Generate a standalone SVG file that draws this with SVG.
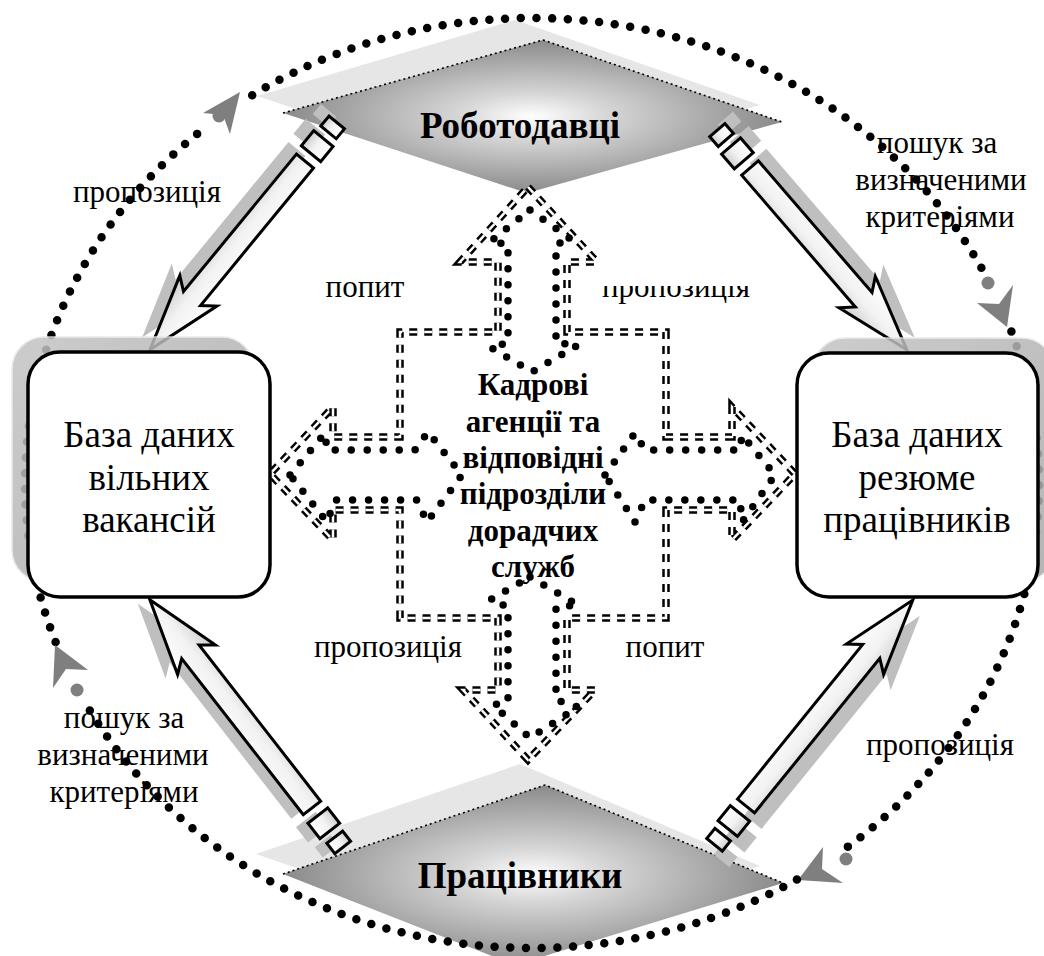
<svg xmlns="http://www.w3.org/2000/svg" xmlns:xlink="http://www.w3.org/1999/xlink" width="1044" height="956" viewBox="0 0 1044 956">
<defs>
<style>
.lbl{font-family:"Liberation Serif","Times New Roman",serif;font-size:31px;text-anchor:middle;fill:#000}
.bx{font-family:"Liberation Serif","Times New Roman",serif;font-size:37px;text-anchor:middle;fill:#000}
.bold{font-family:"Liberation Serif","Times New Roman",serif;font-weight:bold;text-anchor:middle;fill:#000}
.ring{fill:none;stroke:#000;stroke-width:8.5;stroke-linecap:round;stroke-dasharray:0 15.7}
.dots{fill:none;stroke:#000;stroke-width:7.5;stroke-linecap:round;stroke-linejoin:round;stroke-dasharray:0 16}
.dash1{fill:none;stroke:#000;stroke-width:7.5;stroke-dasharray:8 7}
.dash2{fill:none;stroke:#fff;stroke-width:2.5;stroke-dasharray:8 7}
.ahead{fill:#7f7f7f}
.gdot{fill:#7f7f7f}
.blk{fill:url(#ag);stroke:#000;stroke-width:3;stroke-linejoin:miter}
.shd{fill:#bfbfbf}
.dshadow{fill:#e6e6e6}
.dmain{fill:url(#dg)}
.saw{fill:none;stroke:#000;stroke-width:1.6;stroke-dasharray:2 3}
.card{fill:#fff;stroke:#000;stroke-width:3.5}
.cardshd{fill:url(#sg);stroke:#e8e8e8;stroke-width:1.5;opacity:0.85}
</style>
<radialGradient id="dg" cx="0.5" cy="0.5" r="0.5">
<stop offset="0" stop-color="#ffffff"/>
<stop offset="0.3" stop-color="#d6d6d6"/>
<stop offset="1" stop-color="#8a8a8a"/>
</radialGradient>
<linearGradient id="ag" x1="0" y1="0" x2="0" y2="1">
<stop offset="0" stop-color="#ffffff"/>
<stop offset="0.55" stop-color="#f2f2f2"/>
<stop offset="1" stop-color="#cfcfcf"/>
</linearGradient>
<linearGradient id="sg" x1="0" y1="0" x2="1" y2="1">
<stop offset="0" stop-color="#c4c4c4"/>
<stop offset="1" stop-color="#a8a8a8"/>
</linearGradient>
<clipPath id="clipTop">
<rect x="580" y="286" width="200" height="30"/>
</clipPath>
</defs>
<rect x="0" y="0" width="1044" height="956" fill="#fff"/>

<!-- Top diamond: employers -->
<g id="node-employers">
<polygon class="dshadow" points="257,96 515,20 760,105 505,178"/>
<polygon class="dmain" points="283,113 543,40 782,122 527,193"/>
<polyline class="saw" points="283,113 543,40 782,122"/>
<text class="bold" x="520" y="138" font-size="37">Роботодавці</text>
</g>

<!-- Bottom diamond: workers -->
<g id="node-workers">
<polygon class="dshadow" points="256,854 520,764 760,866 505,940"/>
<polygon class="dmain" points="283,874 545,785 783,883 515,965"/>
<polyline class="saw" points="283,874 545,785 783,883"/>
<text class="bold" x="520" y="888" font-size="37">Працівники</text>
</g>

<!-- Labels -->
<g id="labels">
<text class="lbl" x="147" y="202">пропозиція</text>
<text class="lbl" x="937" y="153">пошук за</text>
<text class="lbl" x="941" y="190">визначеними</text>
<text class="lbl" x="940" y="227">критеріями</text>
<text class="lbl" x="365" y="297">попит</text>
<text class="lbl" x="676" y="297" clip-path="url(#clipTop)">пропозиція</text>
<text class="lbl" x="388" y="657">пропозиція</text>
<text class="lbl" x="665" y="657">попит</text>
<text class="lbl" x="124" y="728">пошук за</text>
<text class="lbl" x="123" y="765">визначеними</text>
<text class="lbl" x="124" y="802">критеріями</text>
<text class="lbl" x="940" y="755">пропозиція</text>
</g>

<!-- Connectors -->
<g id="connectors">
<!-- dotted ring arcs -->
<path class="ring" d="M55.6,642 A507,465 0 0 1 206.1,126.8"/>
<circle class="gdot" cx="219" cy="116" r="6.5"/>
<polygon class="ahead" points="240,92 203,113 223,115 230,134"/>

<path class="ring" d="M252.2,95.2 A507,465 0 0 1 983.7,271.9"/>
<circle class="gdot" cx="988" cy="283" r="6.5"/>
<polygon class="ahead" points="1007,327 977,303 999,304 1013,285"/>

<path class="ring" d="M1011.4,331.6 A507,465 0 0 1 837.1,854.3"/>
<circle class="gdot" cx="846" cy="859" r="6.5"/>
<polygon class="ahead" points="798,880 823,847 822,869 843,883"/>

<path class="ring" d="M796.9,879.5 A507,465 0 0 1 88.6,708.4"/>
<circle class="gdot" cx="77" cy="690" r="6.5"/>
<polygon class="ahead" points="55,645 53,688 66,669 88,670"/>

<!-- block arrow 1: employers -> vacancies -->
<g transform="translate(-8,-12) translate(305,161) rotate(129.4)">
<path class="shd" d="M0,-11 H178 L168,-24 L244,0 L168,24 L178,11 H0 Z"/>
<rect class="shd" x="-29" y="-12.5" width="19.5" height="25"/>
<rect class="shd" x="-50" y="-10" width="13" height="20"/>
</g>
<g transform="translate(305,161) rotate(129.4)">
<path class="blk" d="M0,-11 H178 L168,-24 L244,0 L168,24 L178,11 H0 Z"/>
<rect class="blk" x="-29" y="-12.5" width="19.5" height="25"/>
<rect class="blk" x="-50" y="-10" width="13" height="20"/>
</g>

<!-- block arrow 2: employers -> resumes -->
<g transform="translate(8,-12) translate(750,168) rotate(49.2)">
<path class="shd" d="M0,-11 H174 L164,-24 L240,0 L164,24 L174,11 H0 Z"/>
<rect class="shd" x="-29" y="-12.5" width="19.5" height="25"/>
<rect class="shd" x="-50" y="-10" width="13" height="20"/>
</g>
<g transform="translate(750,168) rotate(49.2)">
<path class="blk" d="M0,-11 H174 L164,-24 L240,0 L164,24 L174,11 H0 Z"/>
<rect class="blk" x="-29" y="-12.5" width="19.5" height="25"/>
<rect class="blk" x="-50" y="-10" width="13" height="20"/>
</g>

<!-- block arrow 3: workers -> vacancies -->
<g transform="translate(-12,4) translate(312,808) rotate(-127.9)">
<path class="shd" d="M0,-11 H198 L188,-24 L264,0 L188,24 L198,11 H0 Z"/>
<rect class="shd" x="-29" y="-12.5" width="19.5" height="25"/>
<rect class="shd" x="-50" y="-10" width="13" height="20"/>
</g>
<g transform="translate(312,808) rotate(-127.9)">
<path class="blk" d="M0,-11 H198 L188,-24 L264,0 L188,24 L198,11 H0 Z"/>
<rect class="blk" x="-29" y="-12.5" width="19.5" height="25"/>
<rect class="blk" x="-50" y="-10" width="13" height="20"/>
</g>

<!-- block arrow 4: workers -> resumes -->
<g transform="translate(7,16) translate(746,806) rotate(-51)">
<path class="shd" d="M0,-11 H199 L189,-24 L265,0 L189,24 L199,11 H0 Z"/>
<rect class="shd" x="-29" y="-12.5" width="19.5" height="25"/>
<rect class="shd" x="-50" y="-10" width="13" height="20"/>
</g>
<g transform="translate(746,806) rotate(-51)">
<path class="blk" d="M0,-11 H199 L189,-24 L265,0 L189,24 L199,11 H0 Z"/>
<rect class="blk" x="-29" y="-12.5" width="19.5" height="25"/>
<rect class="blk" x="-50" y="-10" width="13" height="20"/>
</g>
</g>

<!-- Left box: vacancies -->
<g id="node-vacancies">
<rect class="cardshd" x="12" y="337" width="242" height="245" rx="32"/>
<rect class="card" x="28" y="352" width="242" height="245" rx="32"/>
<text class="bx" x="149" y="447">База даних</text>
<text class="bx" x="149" y="490">вільних</text>
<text class="bx" x="149" y="532">вакансій</text>
</g>

<!-- Right box: resumes -->
<g id="node-resumes">
<rect class="cardshd" x="813" y="338" width="241" height="244" rx="32"/>
<rect class="card" x="797" y="353" width="241" height="244" rx="32"/>
<text class="bx" x="917" y="447">База даних</text>
<text class="bx" x="917" y="490">резюме</text>
<text class="bx" x="917" y="532">працівників</text>
</g>

<!-- Center: agencies -->
<g id="node-agencies">
<path id="cross" class="dash1" d="M528,187 L597,262 L567,262 L567,332 L666,332 L666,437 L732,437 L732,407 L795,474 L732,540 L732,510 L666,510 L666,618 L567,618 L567,690 L595,690 L528,760 L463,690 L498,690 L498,618 L400,618 L400,510 L333,510 L333,540 L270,474 L333,407 L333,437 L400,437 L400,332 L498,332 L498,262 L460,262 Z"/>
<path class="dash2" d="M528,187 L597,262 L567,262 L567,332 L666,332 L666,437 L732,437 L732,407 L795,474 L732,540 L732,510 L666,510 L666,618 L567,618 L567,690 L595,690 L528,760 L463,690 L498,690 L498,618 L400,618 L400,510 L333,510 L333,540 L270,474 L333,407 L333,437 L400,437 L400,332 L498,332 L498,262 L460,262 Z"/>
<g id="dotted-arrows">
<path class="dots" d="M530,210 L572,240 L556,244 L556,343 L578,345 L532,372 L490,347 L508,343 L508,244 L490,242 Z"/>
<path class="dots" d="M530,577 L578,605 L556,607 L556,700 L578,707 L530,738 L493,705 L508,702 L508,607 L490,600 Z"/>
<path class="dots" d="M290,475 L325,433 L327,450 L415,450 L428,432 L462,475 L427,522 L417,500 L335,500 L327,522 Z"/>
<path class="dots" d="M605,475 L635,433 L645,450 L740,450 L742,435 L775,475 L742,522 L740,500 L645,500 L635,522 Z"/>
</g>
<text class="bold" x="533" y="395" font-size="31">Кадрові</text>
<text class="bold" x="533" y="432" font-size="31">агенції та</text>
<text class="bold" x="533" y="468" font-size="31">відповідні</text>
<text class="bold" x="533" y="504" font-size="31">підрозділи</text>
<text class="bold" x="533" y="541" font-size="31">дорадчих</text>
<text class="bold" x="533" y="577" font-size="31">служб</text>
</g>
</svg>
